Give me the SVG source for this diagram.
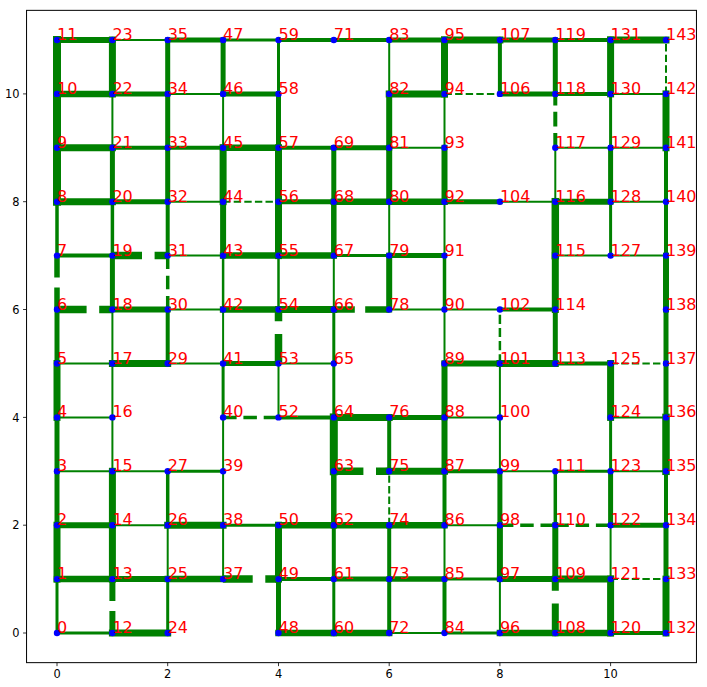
<svg xmlns="http://www.w3.org/2000/svg" width="707" height="687" viewBox="0 0 707 687">
<style>
.bg{fill:#fff}
.frame{fill:none;stroke:#000;stroke-width:1}
.tick{stroke:#000;stroke-width:0.8}
.tl{font-family:"DejaVu Sans",sans-serif;font-size:11.4px;fill:#000}
.tx{text-anchor:middle}
.ty{text-anchor:end}
#edges path{stroke:#008000;fill:none;stroke-linecap:square}
#edges path.d{stroke-linecap:butt}
.s2{stroke-width:2}.s25{stroke-width:2.5}.s3{stroke-width:3}.s35{stroke-width:3.5}.s4{stroke-width:4}.s5{stroke-width:5}.s55{stroke-width:5.5}.s6{stroke-width:6}.s65{stroke-width:6.5}.s7{stroke-width:7}.s75{stroke-width:7.5}.s8{stroke-width:8}
.d2{stroke-dasharray:7.4 3.2}.d25{stroke-dasharray:9.2 4}.d35{stroke-dasharray:13.5 6.8}.d4{stroke-dasharray:14.8 6.4}.d6{stroke-dasharray:22 10}.d65{stroke-dasharray:24 10.4}.d75{stroke-dasharray:29.6 12.6}
.nd circle{fill:#0000ff}
.nd text{fill:#ff0000;font-family:"DejaVu Sans",sans-serif;font-size:16px}
</style>
<rect class="bg" x="0" y="0" width="707" height="687"/>
<rect class="frame" x="26.55" y="10.35" width="669.9" height="652.3"/>
<g id="ticks">
<path class="tick" d="M57 662.65V666.15M167.7 662.65V666.15M278.5 662.65V666.15M389.2 662.65V666.15M499.9 662.65V666.15M610.6 662.65V666.15"/>
<path class="tick" d="M26.55 633H23.05M26.55 525.2H23.05M26.55 417.4H23.05M26.55 309.5H23.05M26.55 201.7H23.05M26.55 93.9H23.05"/>
<text class="tl tx" x="57" y="678">0</text>
<text class="tl tx" x="167.7" y="678">2</text>
<text class="tl tx" x="278.5" y="678">4</text>
<text class="tl tx" x="389.2" y="678">6</text>
<text class="tl tx" x="499.9" y="678">8</text>
<text class="tl tx" x="610.6" y="678">10</text>
<text class="tl ty" x="19.6" y="637.1">0</text>
<text class="tl ty" x="19.6" y="529.3">2</text>
<text class="tl ty" x="19.6" y="421.5">4</text>
<text class="tl ty" x="19.6" y="313.6">6</text>
<text class="tl ty" x="19.6" y="205.8">8</text>
<text class="tl ty" x="19.6" y="98">10</text>
</g>
<g id="edges">
<!-- row 11 -->
<path class="s6" d="M57 40H112.4"/>
<path class="s2" d="M112.4 40H167.7"/>
<path class="s5" d="M167.7 40H223.1"/>
<path class="s3" d="M223.1 40H278.5"/>
<path class="s4" d="M278.5 40H333.8"/>
<path class="s4" d="M333.8 40H389.2"/>
<path class="s5" d="M389.2 40H444.5"/>
<path class="s7" d="M444.5 40H499.9"/>
<path class="s5" d="M499.9 40H555.3"/>
<path class="s4" d="M555.3 40H610.6"/>
<path class="s7" d="M610.6 40H666"/>
<!-- row 10 -->
<path class="s65" d="M57 93.9H112.4"/>
<path class="s5" d="M112.4 93.9H167.7"/>
<path class="s2" d="M167.7 93.9H223.1"/>
<path class="s5" d="M223.1 93.9H278.5"/>
<path class="s7" d="M389.2 93.9H444.5"/>
<path class="s2 d d2" d="M444.5 93.9H499.9"/>
<path class="s5" d="M499.9 93.9H555.3"/>
<path class="s4" d="M555.3 93.9H610.6"/>
<path class="s2" d="M610.6 93.9H666"/>
<!-- row 9 -->
<path class="s7" d="M57 147.8H112.4"/>
<path class="s4" d="M112.4 147.8H167.7"/>
<path class="s4" d="M167.7 147.8H223.1"/>
<path class="s65" d="M223.1 147.8H278.5"/>
<path class="s4" d="M278.5 147.8H333.8"/>
<path class="s5" d="M333.8 147.8H389.2"/>
<path class="s2" d="M389.2 147.8H444.5"/>
<path class="s2" d="M555.3 147.8H610.6"/>
<path class="s2" d="M610.6 147.8H666"/>
<!-- row 8 -->
<path class="s7" d="M57 201.7H112.4"/>
<path class="s5" d="M112.4 201.7H167.7"/>
<path class="s2" d="M167.7 201.7H223.1"/>
<path class="s2 d d2" d="M223.1 201.7H278.5"/>
<path class="s5" d="M278.5 201.7H333.8"/>
<path class="s65" d="M333.8 201.7H389.2"/>
<path class="s65" d="M389.2 201.7H444.5"/>
<path class="s5" d="M444.5 201.7H499.9"/>
<path class="s2" d="M499.9 201.7H555.3"/>
<path class="s6" d="M555.3 201.7H610.6"/>
<path class="s2" d="M610.6 201.7H666"/>
<!-- row 7 -->
<path class="s4" d="M57 255.6H112.4"/>
<path class="s75 d d75" d="M112.4 255.6H167.7"/>
<path class="s2" d="M167.7 255.6H223.1"/>
<path class="s65" d="M223.1 255.6H278.5"/>
<path class="s65" d="M278.5 255.6H333.8"/>
<path class="s3" d="M333.8 255.6H389.2"/>
<path class="s5" d="M389.2 255.6H444.5"/>
<path class="s2" d="M555.3 255.6H610.6"/>
<path class="s2" d="M610.6 255.6H666"/>
<!-- row 6 -->
<path class="s75 d d75" d="M57 309.5H112.4"/>
<path class="s6" d="M112.4 309.5H167.7"/>
<path class="s2" d="M167.7 309.5H223.1"/>
<path class="s65" d="M223.1 309.5H278.5"/>
<path class="s7" d="M278.5 309.5H333.8"/>
<path class="s65 d d65" d="M389.2 309.5H333.8"/>
<path class="s2" d="M389.2 309.5H444.5"/>
<path class="s2" d="M444.5 309.5H499.9"/>
<path class="s4" d="M499.9 309.5H555.3"/>
<!-- row 5 -->
<path class="s2" d="M57 363.5H112.4"/>
<path class="s7" d="M112.4 363.5H167.7"/>
<path class="s2" d="M167.7 363.5H223.1"/>
<path class="s5" d="M223.1 363.5H278.5"/>
<path class="s2" d="M278.5 363.5H333.8"/>
<path class="s6" d="M444.5 363.5H499.9"/>
<path class="s7" d="M499.9 363.5H555.3"/>
<path class="s4" d="M555.3 363.5H610.6"/>
<path class="s2 d d2" d="M610.6 363.5H666"/>
<!-- row 4 -->
<path class="s2" d="M57 417.4H112.4"/>
<path class="s35 d d35" d="M223.1 417.4H278.5"/>
<path class="s4" d="M278.5 417.4H333.8"/>
<path class="s7" d="M333.8 417.4H389.2"/>
<path class="s5" d="M389.2 417.4H444.5"/>
<path class="s2" d="M444.5 417.4H499.9"/>
<path class="s2" d="M610.6 417.4H666"/>
<!-- row 3 -->
<path class="s2" d="M57 471.3H112.4"/>
<path class="s2" d="M112.4 471.3H167.7"/>
<path class="s3" d="M167.7 471.3H223.1"/>
<path class="s75 d d75" d="M333.8 471.3H389.2"/>
<path class="s7" d="M389.2 471.3H444.5"/>
<path class="s4" d="M444.5 471.3H499.9"/>
<path class="s2" d="M499.9 471.3H555.3"/>
<path class="s3" d="M555.3 471.3H610.6"/>
<path class="s2" d="M610.6 471.3H666"/>
<!-- row 2 -->
<path class="s6" d="M57 525.2H112.4"/>
<path class="s2" d="M112.4 525.2H167.7"/>
<path class="s7" d="M167.7 525.2H223.1"/>
<path class="s3" d="M223.1 525.2H278.5"/>
<path class="s65" d="M278.5 525.2H333.8"/>
<path class="s65" d="M333.8 525.2H389.2"/>
<path class="s65" d="M389.2 525.2H444.5"/>
<path class="s2" d="M444.5 525.2H499.9"/>
<path class="s35 d d35" d="M499.9 525.2H555.3"/>
<path class="s35 d d35" d="M555.3 525.2H610.6"/>
<path class="s5" d="M610.6 525.2H666"/>
<!-- row 1 -->
<path class="s65" d="M57 579.1H112.4"/>
<path class="s6" d="M112.4 579.1H167.7"/>
<path class="s65" d="M167.7 579.1H223.1"/>
<path class="s75 d d75" d="M223.1 579.1H278.5"/>
<path class="s4" d="M278.5 579.1H333.8"/>
<path class="s5" d="M333.8 579.1H389.2"/>
<path class="s55" d="M389.2 579.1H444.5"/>
<path class="s3" d="M444.5 579.1H499.9"/>
<path class="s6" d="M499.9 579.1H555.3"/>
<path class="s7" d="M555.3 579.1H610.6"/>
<path class="s2 d d2" d="M610.6 579.1H666"/>
<!-- row 0 -->
<path class="s3" d="M57 633H112.4"/>
<path class="s7" d="M112.4 633H167.7"/>
<path class="s65" d="M278.5 633H333.8"/>
<path class="s65" d="M333.8 633H389.2"/>
<path class="s2" d="M389.2 633H444.5"/>
<path class="s3" d="M444.5 633H499.9"/>
<path class="s65" d="M499.9 633H555.3"/>
<path class="s65" d="M555.3 633H610.6"/>
<path class="s4" d="M610.6 633H666"/>
<!-- col 0 -->
<path class="s3" d="M57 633V579.1"/>
<path class="s7" d="M57 579.1V525.2"/>
<path class="s5" d="M57 525.2V471.3"/>
<path class="s5" d="M57 471.3V417.4"/>
<path class="s7" d="M57 417.4V363.5"/>
<path class="s5" d="M57 363.5V309.5"/>
<path class="s55 d d6" d="M57 309.5V255.6"/>
<path class="s35" d="M57 255.6V201.7"/>
<path class="s8" d="M57 201.7V147.8"/>
<path class="s8" d="M57 147.8V93.9"/>
<path class="s8" d="M57 93.9V40"/>
<!-- col 1 -->
<path class="s6 d d6" d="M112.4 633V579.1"/>
<path class="s7" d="M112.4 579.1V525.2"/>
<path class="s7" d="M112.4 525.2V471.3"/>
<path class="s2" d="M112.4 471.3V417.4"/>
<path class="s2" d="M112.4 417.4V363.5"/>
<path class="s2" d="M112.4 363.5V309.5"/>
<path class="s5" d="M112.4 309.5V255.6"/>
<path class="s35" d="M112.4 255.6V201.7"/>
<path class="s5" d="M112.4 201.7V147.8"/>
<path class="s2" d="M112.4 147.8V93.9"/>
<path class="s7" d="M112.4 93.9V40"/>
<!-- col 2 -->
<path class="s3" d="M167.7 633V579.1"/>
<path class="s2" d="M167.7 579.1V525.2"/>
<path class="s35" d="M167.7 525.2V471.3"/>
<path class="s4" d="M167.7 363.5V309.5"/>
<path class="s35 d d35" d="M167.7 309.5V255.6"/>
<path class="s4" d="M167.7 255.6V201.7"/>
<path class="s5" d="M167.7 201.7V147.8"/>
<path class="s5" d="M167.7 147.8V93.9"/>
<path class="s5" d="M167.7 93.9V40"/>
<!-- col 3 -->
<path class="s2" d="M223.1 579.1V525.2"/>
<path class="s2" d="M223.1 525.2V471.3"/>
<path class="s2" d="M223.1 471.3V417.4"/>
<path class="s3" d="M223.1 417.4V363.5"/>
<path class="s2" d="M223.1 363.5V309.5"/>
<path class="s25" d="M223.1 309.5V255.6"/>
<path class="s6" d="M223.1 255.6V201.7"/>
<path class="s7" d="M223.1 201.7V147.8"/>
<path class="s2" d="M223.1 147.8V93.9"/>
<path class="s5" d="M223.1 93.9V40"/>
<!-- col 4 -->
<path class="s5" d="M278.5 633V579.1"/>
<path class="s7" d="M278.5 579.1V525.2"/>
<path class="s2" d="M278.5 417.4V363.5"/>
<path class="s75 d d75" d="M278.5 363.5V309.5"/>
<path class="s25" d="M278.5 309.5V255.6"/>
<path class="s7" d="M278.5 255.6V201.7"/>
<path class="s7" d="M278.5 201.7V147.8"/>
<path class="s5" d="M278.5 147.8V93.9"/>
<path class="s3" d="M278.5 93.9V40"/>
<!-- col 5 -->
<path class="s3" d="M333.8 633V579.1"/>
<path class="s4" d="M333.8 579.1V525.2"/>
<path class="s55" d="M333.8 525.2V471.3"/>
<path class="s8" d="M333.8 471.3V417.4"/>
<path class="s3" d="M333.8 417.4V363.5"/>
<path class="s3" d="M333.8 363.5V309.5"/>
<path class="s2" d="M333.8 309.5V255.6"/>
<path class="s55" d="M333.8 255.6V201.7"/>
<path class="s5" d="M333.8 201.7V147.8"/>
<!-- col 6 -->
<path class="s4" d="M389.2 633V579.1"/>
<path class="s4" d="M389.2 579.1V525.2"/>
<path class="s2 d d2" d="M389.2 525.2V471.3"/>
<path class="s4" d="M389.2 471.3V417.4"/>
<path class="s6" d="M389.2 309.5V255.6"/>
<path class="s2" d="M389.2 255.6V201.7"/>
<path class="s6" d="M389.2 201.7V147.8"/>
<path class="s6" d="M389.2 147.8V93.9"/>
<path class="s2" d="M389.2 93.9V40"/>
<!-- col 7 -->
<path class="s4" d="M444.5 633V579.1"/>
<path class="s2" d="M444.5 579.1V525.2"/>
<path class="s4" d="M444.5 525.2V471.3"/>
<path class="s6" d="M444.5 471.3V417.4"/>
<path class="s6" d="M444.5 417.4V363.5"/>
<path class="s2" d="M444.5 363.5V309.5"/>
<path class="s35" d="M444.5 309.5V255.6"/>
<path class="s2" d="M444.5 255.6V201.7"/>
<path class="s6" d="M444.5 201.7V147.8"/>
<path class="s2" d="M444.5 147.8V93.9"/>
<path class="s7" d="M444.5 93.9V40"/>
<!-- col 8 -->
<path class="s2" d="M499.9 633V579.1"/>
<path class="s6" d="M499.9 579.1V525.2"/>
<path class="s5" d="M499.9 525.2V471.3"/>
<path class="s2" d="M499.9 471.3V417.4"/>
<path class="s2" d="M499.9 417.4V363.5"/>
<path class="s25 d d25" d="M499.9 363.5V309.5"/>
<path class="s4" d="M499.9 93.9V40"/>
<!-- col 9 -->
<path class="s7 d d75" d="M555.3 633V579.1"/>
<path class="s6" d="M555.3 579.1V525.2"/>
<path class="s35" d="M555.3 525.2V471.3"/>
<path class="s5" d="M555.3 363.5V309.5"/>
<path class="s7" d="M555.3 309.5V255.6"/>
<path class="s75" d="M555.3 255.6V201.7"/>
<path class="s2" d="M555.3 201.7V147.8"/>
<path class="s4 d d4" d="M555.3 147.8V93.9"/>
<path class="s5" d="M555.3 93.9V40"/>
<!-- col 10 -->
<path class="s7" d="M610.6 633V579.1"/>
<path class="s2" d="M610.6 579.1V525.2"/>
<path class="s5" d="M610.6 525.2V471.3"/>
<path class="s3" d="M610.6 471.3V417.4"/>
<path class="s7" d="M610.6 417.4V363.5"/>
<path class="s3" d="M610.6 255.6V201.7"/>
<path class="s5" d="M610.6 201.7V147.8"/>
<path class="s3" d="M610.6 147.8V93.9"/>
<path class="s7" d="M610.6 93.9V40"/>
<!-- col 11 -->
<path class="s7" d="M666 633V579.1"/>
<path class="s5" d="M666 579.1V525.2"/>
<path class="s4" d="M666 525.2V471.3"/>
<path class="s75" d="M666 471.3V417.4"/>
<path class="s5" d="M666 417.4V363.5"/>
<path class="s5" d="M666 363.5V309.5"/>
<path class="s6" d="M666 309.5V255.6"/>
<path class="s4" d="M666 255.6V201.7"/>
<path class="s4" d="M666 201.7V147.8"/>
<path class="s7" d="M666 147.8V93.9"/>
<path class="s2 d d2" d="M666 93.9V40"/>
</g>
<g id="nodes" class="nd">
<g id="n0"><circle cx="57" cy="633" r="3.2"/><text x="57" y="633">0</text></g>
<g id="n1"><circle cx="57" cy="579.1" r="3.2"/><text x="57" y="579.1">1</text></g>
<g id="n2"><circle cx="57" cy="525.2" r="3.2"/><text x="57" y="525.2">2</text></g>
<g id="n3"><circle cx="57" cy="471.3" r="3.2"/><text x="57" y="471.3">3</text></g>
<g id="n4"><circle cx="57" cy="417.4" r="3.2"/><text x="57" y="417.4">4</text></g>
<g id="n5"><circle cx="57" cy="363.5" r="3.2"/><text x="57" y="363.5">5</text></g>
<g id="n6"><circle cx="57" cy="309.5" r="3.2"/><text x="57" y="309.5">6</text></g>
<g id="n7"><circle cx="57" cy="255.6" r="3.2"/><text x="57" y="255.6">7</text></g>
<g id="n8"><circle cx="57" cy="201.7" r="3.2"/><text x="57" y="201.7">8</text></g>
<g id="n9"><circle cx="57" cy="147.8" r="3.2"/><text x="57" y="147.8">9</text></g>
<g id="n10"><circle cx="57" cy="93.9" r="3.2"/><text x="57" y="93.9">10</text></g>
<g id="n11"><circle cx="57" cy="40" r="3.2"/><text x="57" y="40">11</text></g>
<g id="n12"><circle cx="112.4" cy="633" r="3.2"/><text x="112.4" y="633">12</text></g>
<g id="n13"><circle cx="112.4" cy="579.1" r="3.2"/><text x="112.4" y="579.1">13</text></g>
<g id="n14"><circle cx="112.4" cy="525.2" r="3.2"/><text x="112.4" y="525.2">14</text></g>
<g id="n15"><circle cx="112.4" cy="471.3" r="3.2"/><text x="112.4" y="471.3">15</text></g>
<g id="n16"><circle cx="112.4" cy="417.4" r="3.2"/><text x="112.4" y="417.4">16</text></g>
<g id="n17"><circle cx="112.4" cy="363.5" r="3.2"/><text x="112.4" y="363.5">17</text></g>
<g id="n18"><circle cx="112.4" cy="309.5" r="3.2"/><text x="112.4" y="309.5">18</text></g>
<g id="n19"><circle cx="112.4" cy="255.6" r="3.2"/><text x="112.4" y="255.6">19</text></g>
<g id="n20"><circle cx="112.4" cy="201.7" r="3.2"/><text x="112.4" y="201.7">20</text></g>
<g id="n21"><circle cx="112.4" cy="147.8" r="3.2"/><text x="112.4" y="147.8">21</text></g>
<g id="n22"><circle cx="112.4" cy="93.9" r="3.2"/><text x="112.4" y="93.9">22</text></g>
<g id="n23"><circle cx="112.4" cy="40" r="3.2"/><text x="112.4" y="40">23</text></g>
<g id="n24"><circle cx="167.7" cy="633" r="3.2"/><text x="167.7" y="633">24</text></g>
<g id="n25"><circle cx="167.7" cy="579.1" r="3.2"/><text x="167.7" y="579.1">25</text></g>
<g id="n26"><circle cx="167.7" cy="525.2" r="3.2"/><text x="167.7" y="525.2">26</text></g>
<g id="n27"><circle cx="167.7" cy="471.3" r="3.2"/><text x="167.7" y="471.3">27</text></g>
<g id="n29"><circle cx="167.7" cy="363.5" r="3.2"/><text x="167.7" y="363.5">29</text></g>
<g id="n30"><circle cx="167.7" cy="309.5" r="3.2"/><text x="167.7" y="309.5">30</text></g>
<g id="n31"><circle cx="167.7" cy="255.6" r="3.2"/><text x="167.7" y="255.6">31</text></g>
<g id="n32"><circle cx="167.7" cy="201.7" r="3.2"/><text x="167.7" y="201.7">32</text></g>
<g id="n33"><circle cx="167.7" cy="147.8" r="3.2"/><text x="167.7" y="147.8">33</text></g>
<g id="n34"><circle cx="167.7" cy="93.9" r="3.2"/><text x="167.7" y="93.9">34</text></g>
<g id="n35"><circle cx="167.7" cy="40" r="3.2"/><text x="167.7" y="40">35</text></g>
<g id="n37"><circle cx="223.1" cy="579.1" r="3.2"/><text x="223.1" y="579.1">37</text></g>
<g id="n38"><circle cx="223.1" cy="525.2" r="3.2"/><text x="223.1" y="525.2">38</text></g>
<g id="n39"><circle cx="223.1" cy="471.3" r="3.2"/><text x="223.1" y="471.3">39</text></g>
<g id="n40"><circle cx="223.1" cy="417.4" r="3.2"/><text x="223.1" y="417.4">40</text></g>
<g id="n41"><circle cx="223.1" cy="363.5" r="3.2"/><text x="223.1" y="363.5">41</text></g>
<g id="n42"><circle cx="223.1" cy="309.5" r="3.2"/><text x="223.1" y="309.5">42</text></g>
<g id="n43"><circle cx="223.1" cy="255.6" r="3.2"/><text x="223.1" y="255.6">43</text></g>
<g id="n44"><circle cx="223.1" cy="201.7" r="3.2"/><text x="223.1" y="201.7">44</text></g>
<g id="n45"><circle cx="223.1" cy="147.8" r="3.2"/><text x="223.1" y="147.8">45</text></g>
<g id="n46"><circle cx="223.1" cy="93.9" r="3.2"/><text x="223.1" y="93.9">46</text></g>
<g id="n47"><circle cx="223.1" cy="40" r="3.2"/><text x="223.1" y="40">47</text></g>
<g id="n48"><circle cx="278.5" cy="633" r="3.2"/><text x="278.5" y="633">48</text></g>
<g id="n49"><circle cx="278.5" cy="579.1" r="3.2"/><text x="278.5" y="579.1">49</text></g>
<g id="n50"><circle cx="278.5" cy="525.2" r="3.2"/><text x="278.5" y="525.2">50</text></g>
<g id="n52"><circle cx="278.5" cy="417.4" r="3.2"/><text x="278.5" y="417.4">52</text></g>
<g id="n53"><circle cx="278.5" cy="363.5" r="3.2"/><text x="278.5" y="363.5">53</text></g>
<g id="n54"><circle cx="278.5" cy="309.5" r="3.2"/><text x="278.5" y="309.5">54</text></g>
<g id="n55"><circle cx="278.5" cy="255.6" r="3.2"/><text x="278.5" y="255.6">55</text></g>
<g id="n56"><circle cx="278.5" cy="201.7" r="3.2"/><text x="278.5" y="201.7">56</text></g>
<g id="n57"><circle cx="278.5" cy="147.8" r="3.2"/><text x="278.5" y="147.8">57</text></g>
<g id="n58"><circle cx="278.5" cy="93.9" r="3.2"/><text x="278.5" y="93.9">58</text></g>
<g id="n59"><circle cx="278.5" cy="40" r="3.2"/><text x="278.5" y="40">59</text></g>
<g id="n60"><circle cx="333.8" cy="633" r="3.2"/><text x="333.8" y="633">60</text></g>
<g id="n61"><circle cx="333.8" cy="579.1" r="3.2"/><text x="333.8" y="579.1">61</text></g>
<g id="n62"><circle cx="333.8" cy="525.2" r="3.2"/><text x="333.8" y="525.2">62</text></g>
<g id="n63"><circle cx="333.8" cy="471.3" r="3.2"/><text x="333.8" y="471.3">63</text></g>
<g id="n64"><circle cx="333.8" cy="417.4" r="3.2"/><text x="333.8" y="417.4">64</text></g>
<g id="n65"><circle cx="333.8" cy="363.5" r="3.2"/><text x="333.8" y="363.5">65</text></g>
<g id="n66"><circle cx="333.8" cy="309.5" r="3.2"/><text x="333.8" y="309.5">66</text></g>
<g id="n67"><circle cx="333.8" cy="255.6" r="3.2"/><text x="333.8" y="255.6">67</text></g>
<g id="n68"><circle cx="333.8" cy="201.7" r="3.2"/><text x="333.8" y="201.7">68</text></g>
<g id="n69"><circle cx="333.8" cy="147.8" r="3.2"/><text x="333.8" y="147.8">69</text></g>
<g id="n71"><circle cx="333.8" cy="40" r="3.2"/><text x="333.8" y="40">71</text></g>
<g id="n72"><circle cx="389.2" cy="633" r="3.2"/><text x="389.2" y="633">72</text></g>
<g id="n73"><circle cx="389.2" cy="579.1" r="3.2"/><text x="389.2" y="579.1">73</text></g>
<g id="n74"><circle cx="389.2" cy="525.2" r="3.2"/><text x="389.2" y="525.2">74</text></g>
<g id="n75"><circle cx="389.2" cy="471.3" r="3.2"/><text x="389.2" y="471.3">75</text></g>
<g id="n76"><circle cx="389.2" cy="417.4" r="3.2"/><text x="389.2" y="417.4">76</text></g>
<g id="n78"><circle cx="389.2" cy="309.5" r="3.2"/><text x="389.2" y="309.5">78</text></g>
<g id="n79"><circle cx="389.2" cy="255.6" r="3.2"/><text x="389.2" y="255.6">79</text></g>
<g id="n80"><circle cx="389.2" cy="201.7" r="3.2"/><text x="389.2" y="201.7">80</text></g>
<g id="n81"><circle cx="389.2" cy="147.8" r="3.2"/><text x="389.2" y="147.8">81</text></g>
<g id="n82"><circle cx="389.2" cy="93.9" r="3.2"/><text x="389.2" y="93.9">82</text></g>
<g id="n83"><circle cx="389.2" cy="40" r="3.2"/><text x="389.2" y="40">83</text></g>
<g id="n84"><circle cx="444.5" cy="633" r="3.2"/><text x="444.5" y="633">84</text></g>
<g id="n85"><circle cx="444.5" cy="579.1" r="3.2"/><text x="444.5" y="579.1">85</text></g>
<g id="n86"><circle cx="444.5" cy="525.2" r="3.2"/><text x="444.5" y="525.2">86</text></g>
<g id="n87"><circle cx="444.5" cy="471.3" r="3.2"/><text x="444.5" y="471.3">87</text></g>
<g id="n88"><circle cx="444.5" cy="417.4" r="3.2"/><text x="444.5" y="417.4">88</text></g>
<g id="n89"><circle cx="444.5" cy="363.5" r="3.2"/><text x="444.5" y="363.5">89</text></g>
<g id="n90"><circle cx="444.5" cy="309.5" r="3.2"/><text x="444.5" y="309.5">90</text></g>
<g id="n91"><circle cx="444.5" cy="255.6" r="3.2"/><text x="444.5" y="255.6">91</text></g>
<g id="n92"><circle cx="444.5" cy="201.7" r="3.2"/><text x="444.5" y="201.7">92</text></g>
<g id="n93"><circle cx="444.5" cy="147.8" r="3.2"/><text x="444.5" y="147.8">93</text></g>
<g id="n94"><circle cx="444.5" cy="93.9" r="3.2"/><text x="444.5" y="93.9">94</text></g>
<g id="n95"><circle cx="444.5" cy="40" r="3.2"/><text x="444.5" y="40">95</text></g>
<g id="n96"><circle cx="499.9" cy="633" r="3.2"/><text x="499.9" y="633">96</text></g>
<g id="n97"><circle cx="499.9" cy="579.1" r="3.2"/><text x="499.9" y="579.1">97</text></g>
<g id="n98"><circle cx="499.9" cy="525.2" r="3.2"/><text x="499.9" y="525.2">98</text></g>
<g id="n99"><circle cx="499.9" cy="471.3" r="3.2"/><text x="499.9" y="471.3">99</text></g>
<g id="n100"><circle cx="499.9" cy="417.4" r="3.2"/><text x="499.9" y="417.4">100</text></g>
<g id="n101"><circle cx="499.9" cy="363.5" r="3.2"/><text x="499.9" y="363.5">101</text></g>
<g id="n102"><circle cx="499.9" cy="309.5" r="3.2"/><text x="499.9" y="309.5">102</text></g>
<g id="n104"><circle cx="499.9" cy="201.7" r="3.2"/><text x="499.9" y="201.7">104</text></g>
<g id="n106"><circle cx="499.9" cy="93.9" r="3.2"/><text x="499.9" y="93.9">106</text></g>
<g id="n107"><circle cx="499.9" cy="40" r="3.2"/><text x="499.9" y="40">107</text></g>
<g id="n108"><circle cx="555.3" cy="633" r="3.2"/><text x="555.3" y="633">108</text></g>
<g id="n109"><circle cx="555.3" cy="579.1" r="3.2"/><text x="555.3" y="579.1">109</text></g>
<g id="n110"><circle cx="555.3" cy="525.2" r="3.2"/><text x="555.3" y="525.2">110</text></g>
<g id="n111"><circle cx="555.3" cy="471.3" r="3.2"/><text x="555.3" y="471.3">111</text></g>
<g id="n113"><circle cx="555.3" cy="363.5" r="3.2"/><text x="555.3" y="363.5">113</text></g>
<g id="n114"><circle cx="555.3" cy="309.5" r="3.2"/><text x="555.3" y="309.5">114</text></g>
<g id="n115"><circle cx="555.3" cy="255.6" r="3.2"/><text x="555.3" y="255.6">115</text></g>
<g id="n116"><circle cx="555.3" cy="201.7" r="3.2"/><text x="555.3" y="201.7">116</text></g>
<g id="n117"><circle cx="555.3" cy="147.8" r="3.2"/><text x="555.3" y="147.8">117</text></g>
<g id="n118"><circle cx="555.3" cy="93.9" r="3.2"/><text x="555.3" y="93.9">118</text></g>
<g id="n119"><circle cx="555.3" cy="40" r="3.2"/><text x="555.3" y="40">119</text></g>
<g id="n120"><circle cx="610.6" cy="633" r="3.2"/><text x="610.6" y="633">120</text></g>
<g id="n121"><circle cx="610.6" cy="579.1" r="3.2"/><text x="610.6" y="579.1">121</text></g>
<g id="n122"><circle cx="610.6" cy="525.2" r="3.2"/><text x="610.6" y="525.2">122</text></g>
<g id="n123"><circle cx="610.6" cy="471.3" r="3.2"/><text x="610.6" y="471.3">123</text></g>
<g id="n124"><circle cx="610.6" cy="417.4" r="3.2"/><text x="610.6" y="417.4">124</text></g>
<g id="n125"><circle cx="610.6" cy="363.5" r="3.2"/><text x="610.6" y="363.5">125</text></g>
<g id="n127"><circle cx="610.6" cy="255.6" r="3.2"/><text x="610.6" y="255.6">127</text></g>
<g id="n128"><circle cx="610.6" cy="201.7" r="3.2"/><text x="610.6" y="201.7">128</text></g>
<g id="n129"><circle cx="610.6" cy="147.8" r="3.2"/><text x="610.6" y="147.8">129</text></g>
<g id="n130"><circle cx="610.6" cy="93.9" r="3.2"/><text x="610.6" y="93.9">130</text></g>
<g id="n131"><circle cx="610.6" cy="40" r="3.2"/><text x="610.6" y="40">131</text></g>
<g id="n132"><circle cx="666" cy="633" r="3.2"/><text x="666" y="633">132</text></g>
<g id="n133"><circle cx="666" cy="579.1" r="3.2"/><text x="666" y="579.1">133</text></g>
<g id="n134"><circle cx="666" cy="525.2" r="3.2"/><text x="666" y="525.2">134</text></g>
<g id="n135"><circle cx="666" cy="471.3" r="3.2"/><text x="666" y="471.3">135</text></g>
<g id="n136"><circle cx="666" cy="417.4" r="3.2"/><text x="666" y="417.4">136</text></g>
<g id="n137"><circle cx="666" cy="363.5" r="3.2"/><text x="666" y="363.5">137</text></g>
<g id="n138"><circle cx="666" cy="309.5" r="3.2"/><text x="666" y="309.5">138</text></g>
<g id="n139"><circle cx="666" cy="255.6" r="3.2"/><text x="666" y="255.6">139</text></g>
<g id="n140"><circle cx="666" cy="201.7" r="3.2"/><text x="666" y="201.7">140</text></g>
<g id="n141"><circle cx="666" cy="147.8" r="3.2"/><text x="666" y="147.8">141</text></g>
<g id="n142"><circle cx="666" cy="93.9" r="3.2"/><text x="666" y="93.9">142</text></g>
<g id="n143"><circle cx="666" cy="40" r="3.2"/><text x="666" y="40">143</text></g>
</g>
</svg>
